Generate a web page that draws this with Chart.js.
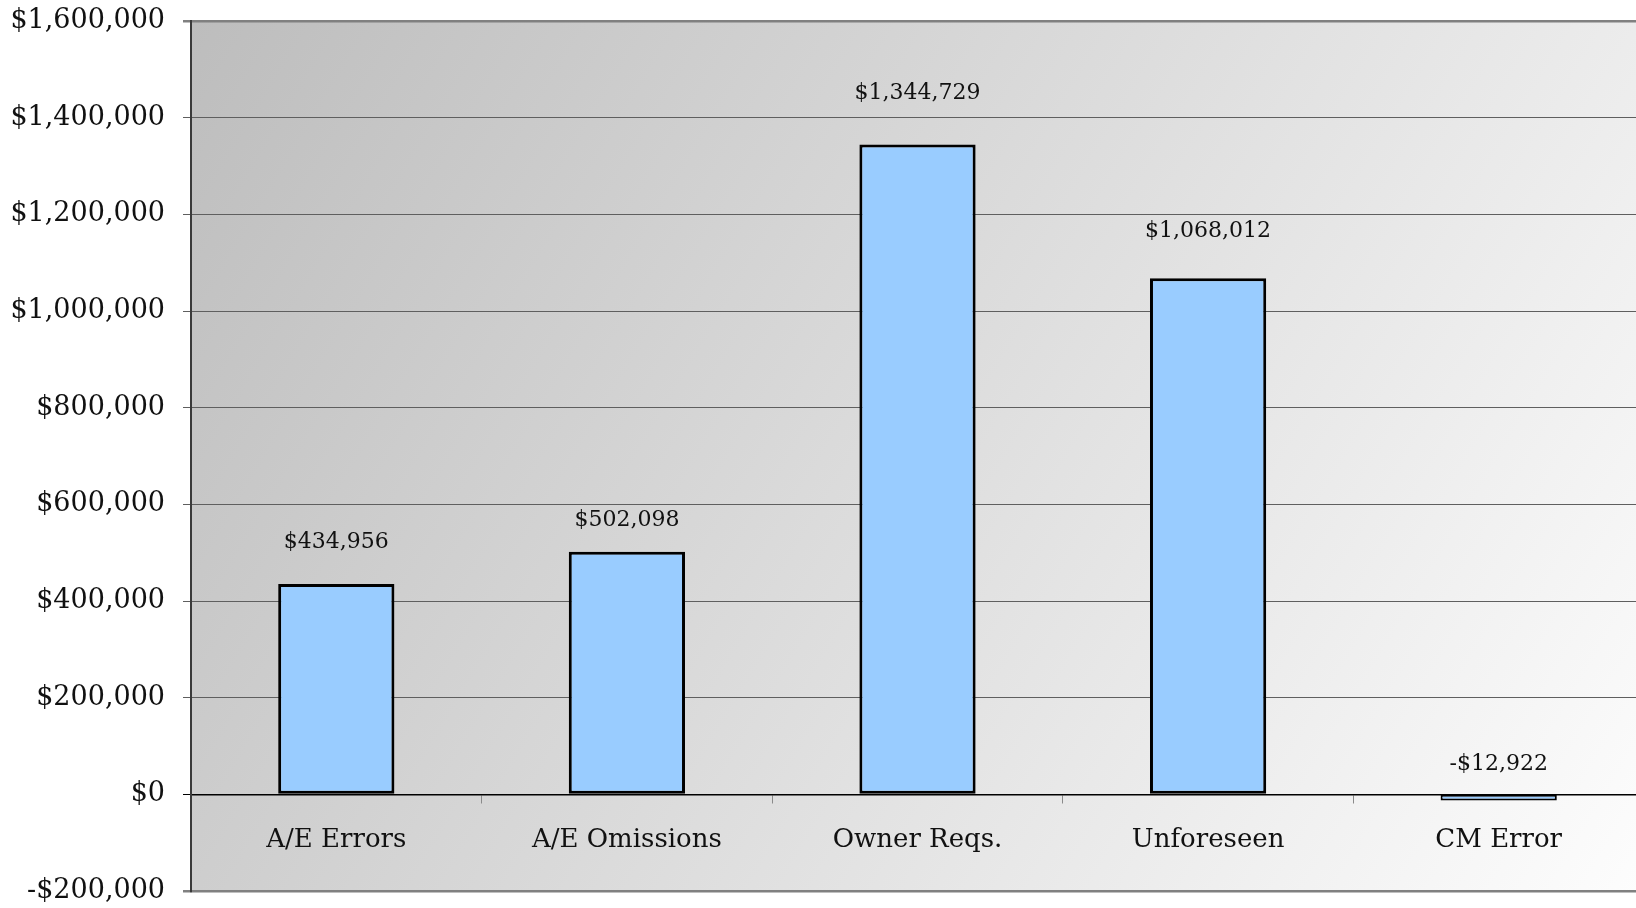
<!DOCTYPE html>
<html>
<head>
<meta charset="utf-8">
<script src="https://cdn.jsdelivr.net/npm/chart.js@4.4.1/dist/chart.umd.min.js"></script>
<style>
  html, body { margin: 0; padding: 0; background: #ffffff; overflow: hidden; }
  #wrap { width: 1646px; height: 908px; position: relative; }
</style>
</head>
<body>
<div id="wrap"><canvas id="costChart"></canvas></div>
<script>
const categories = ['A/E Errors', 'A/E Omissions', 'Owner Reqs.', 'Unforeseen', 'CM Error'];
const costs = [434956, 502098, 1344729, 1068012, -12922];
const yMin = -200000;
const yMax = 1600000;
const yStep = 200000;

const FONT = '"DejaVu Serif", "Liberation Serif", serif';

function money(v) {
    const s = '$' + Math.abs(v).toLocaleString('en-US');
    return v < 0 ? '-' + s : s;
}

// gradient plot background
const plotBackground = {
    id: 'plotBackground',
    beforeDraw(chart) {
        const { ctx, chartArea: a } = chart;
        const g = ctx.createLinearGradient(a.left, a.top, a.right, a.bottom);
        g.addColorStop(0, '#bdbdbd');
        g.addColorStop(1, '#fdfdfd');
        ctx.save();
        ctx.fillStyle = g;
        ctx.fillRect(a.left, a.top, a.right - a.left, a.bottom - a.top);
        ctx.restore();
    }
};

// value labels above each bar
const valueLabels = {
    id: 'valueLabels',
    afterDatasetsDraw(chart, args, opts) {
        const { ctx } = chart;
        const meta = chart.getDatasetMeta(0);
        ctx.save();
        ctx.font = '22px ' + FONT;
        ctx.fillStyle = '#111111';
        ctx.textAlign = 'center';
        ctx.textBaseline = 'middle';
        meta.data.forEach((bar, i) => {
            const top = Math.min(bar.y, bar.base);
            const gap = opts.gaps[i] || 40;
            ctx.fillText(money(costs[i]), bar.x, top - gap);
        });
        ctx.restore();
    }
};

const ctx = document.getElementById('costChart').getContext('2d');
new Chart(ctx, {
    type: 'bar',
    data: {
        labels: categories,
        datasets: [{
            data: costs,
            backgroundColor: '#99ccff',
            borderColor: '#000000',
            // thin bars keep a thinner outline so the fill still shows
            borderWidth: c => (Math.abs(costs[c.dataIndex]) < 50000 ? 2 : 3),
            borderSkipped: false,
            barPercentage: 0.4,
            categoryPercentage: 1.0
        }]
    },
    options: {
        responsive: true,
        maintainAspectRatio: false,
        animation: false,
        layout: { padding: { top: 21, bottom: 17, right: 2, left: 0 } },
        plugins: {
            legend: { display: false },
            tooltip: { enabled: false },
            valueLabels: { gaps: [42, 31, 51, 47, 31] }
        },
        scales: {
            x: {
                position: { y: 0 },
                offset: true,
                grid: {
                    offset: true,
                    drawOnChartArea: false,
                    drawTicks: true,
                    tickLength: 8,
                    color: '#8a8a8a'
                },
                border: { display: true, color: '#000000', width: 1.5 },
                ticks: {
                    color: '#111111',
                    font: { family: FONT, size: 26 },
                    padding: 22,
                    maxRotation: 0
                }
            },
            y: {
                min: yMin,
                max: yMax,
                afterFit(scale) {
                    scale.width = 191;
                    scale.paddingTop = 0;
                    scale.paddingBottom = 0;
                },
                ticks: {
                    stepSize: yStep,
                    color: '#111111',
                    font: { family: FONT, size: 27 },
                    padding: 18,
                    callback: v => money(v)
                },
                grid: {
                    tickLength: 8,
                    color: c => {
                        const v = c.tick ? c.tick.value : null;
                        if (v === 0) return '#000000';
                        if (v === yMin || v === yMax) return '#808080';
                        return '#5f5f5f';
                    },
                    lineWidth: c => {
                        const v = c.tick ? c.tick.value : null;
                        if (v === yMin || v === yMax) return 2.5;
                        return 1;
                    }
                },
                border: { display: true, color: '#3a3a3a', width: 2 }
            }
        }
    },
    plugins: [plotBackground, valueLabels]
});
</script>
</body>
</html>
